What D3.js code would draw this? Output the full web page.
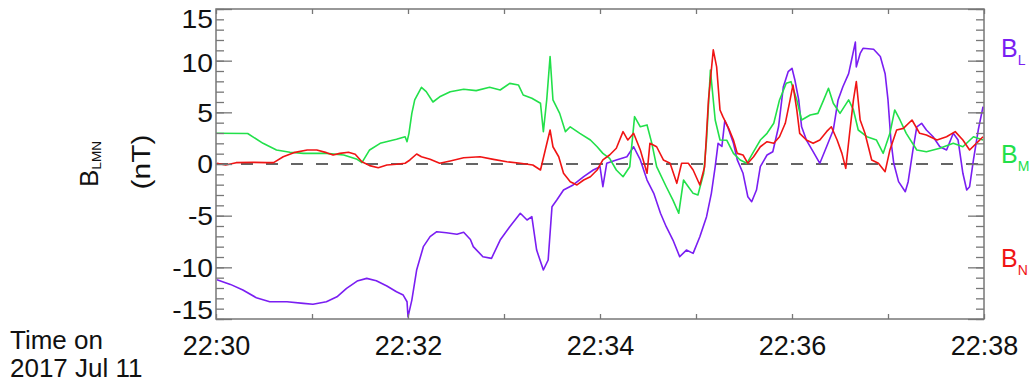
<!DOCTYPE html>
<html><head><meta charset="utf-8">
<script src="https://cdn.jsdelivr.net/npm/d3@7"></script>
<style>
body{margin:0;background:#fff}
svg{display:block}
text{font-family:"Liberation Sans",Arial,Helvetica,sans-serif;fill:#111}
</style>
</head><body>
<svg id="chart" width="1034" height="383"></svg>
<script>
// ---- data (minutes after 22:30 UT, 2017 Jul 11; values in nT) ----
const seriesNames = ["BL", "BM", "BN"];
const seriesColors = ["#7a1ef2", "#22e04a", "#f01414"];

const bLTime = [0.01,0.15,0.28,0.42,0.56,0.74,0.91,1.01,1.15,1.26,1.36,1.47,1.57,1.67,1.78,1.88,1.95,1.99,2.00,2.04,2.09,2.16,2.23,2.30,2.40,2.51,2.58,2.65,2.68,2.78,2.87,2.96,3.06,3.17,3.24,3.29,3.34,3.41,3.46,3.50,3.55,3.62,3.72,3.83,3.93,4.00,4.03,4.07,4.17,4.28,4.35,4.42,4.49,4.56,4.63,4.69,4.76,4.83,4.90,4.97,5.04,5.11,5.16,5.20,5.23,5.27,5.30,5.33,5.39,5.43,5.49,5.54,5.58,5.63,5.67,5.74,5.80,5.86,5.91,5.96,6.00,6.03,6.07,6.10,6.15,6.22,6.29,6.36,6.43,6.48,6.53,6.59,6.62,6.66,6.67,6.71,6.74,6.85,6.92,6.97,7.00,7.03,7.06,7.11,7.18,7.21,7.26,7.30,7.35,7.40,7.47,7.54,7.61,7.68,7.73,7.78,7.82,7.85,7.89,7.94,7.99];
const bLValues = [-11.2,-11.65,-12.2,-12.94,-13.33,-13.33,-13.49,-13.58,-13.33,-12.85,-12.03,-11.33,-11.07,-11.3,-11.81,-12.36,-12.68,-13.33,-14.8,-13.17,-10.26,-8.0,-7.03,-6.55,-6.65,-6.8,-6.6,-7.3,-8.0,-8.97,-9.13,-7.36,-6.07,-4.77,-5.42,-5.1,-8.33,-10.26,-9.29,-4.13,-3.49,-2.52,-2.03,-1.23,-0.58,-0.26,-2.2,0.07,0.39,0.7,1.67,0.39,-1.55,-2.84,-4.77,-6.07,-7.36,-8.97,-8.33,-8.65,-7.04,-5.1,-2.84,-0.26,2.0,1.7,4.2,3.6,2.0,0.4,-0.9,-3.17,-3.65,-2.52,-0.26,0.87,1.19,3.6,7.48,8.93,9.26,8.13,6.2,3.6,2.32,1.19,0.07,1.67,3.29,6.2,7.48,8.74,10.04,11.8,9.4,10.7,11.2,11.1,10.4,8.74,6.2,2.32,0.07,-1.71,-2.68,-1.71,1.36,3.6,3.94,3.29,2.64,1.67,1.36,2.97,2.32,-0.9,-2.52,-2.2,0.39,3.29,5.55];

const bMTime = [0.00,0.33,0.49,0.63,0.77,0.91,1.15,1.33,1.47,1.52,1.60,1.71,1.88,1.97,1.99,2.01,2.04,2.07,2.14,2.19,2.26,2.33,2.44,2.58,2.71,2.85,2.96,3.06,3.15,3.20,3.29,3.38,3.41,3.445,3.48,3.51,3.58,3.64,3.69,3.79,3.90,3.97,4.03,4.10,4.17,4.24,4.31,4.36,4.42,4.49,4.54,4.59,4.69,4.76,4.82,4.87,4.92,4.97,5.02,5.08,5.11,5.15,5.20,5.25,5.32,5.39,5.46,5.53,5.60,5.67,5.74,5.81,5.87,5.94,5.99,6.05,6.10,6.19,6.27,6.33,6.38,6.43,6.50,6.59,6.64,6.69,6.78,6.88,6.95,7.02,7.07,7.125,7.19,7.30,7.40,7.54,7.68,7.78,7.89,7.99];
const bMValues = [2.97,2.95,2.0,1.36,1.13,1.03,1.03,0.87,0.45,0.13,1.36,2.0,2.4,2.64,2.16,2.97,4.9,6.2,7.42,7.0,6.0,6.5,7.0,7.23,7.1,7.42,7.16,7.8,7.65,6.68,6.36,5.88,3.13,6.2,10.4,6.2,4.9,3.13,3.6,2.97,2.32,1.67,1.03,0.55,-0.58,-1.23,-0.26,4.58,3.6,3.78,2.0,-0.26,-2.2,-3.49,-4.77,-1.55,-2.2,-2.84,-3.0,-0.9,2.32,9.1,4.26,2.32,2.3,1.03,0.39,0.07,1.19,2.32,2.97,3.94,6.2,7.81,7.97,6.2,4.26,4.74,4.9,6.2,7.33,5.88,4.9,6.2,5.23,3.29,2.64,2.32,1.03,2.97,5.23,4.26,2.97,1.36,1.19,1.52,2.0,1.67,2.64,2.32];

const bNTime = [0.01,0.10,0.21,0.39,0.53,0.60,0.70,0.81,0.95,1.05,1.15,1.22,1.29,1.38,1.45,1.52,1.60,1.69,1.78,1.88,1.97,2.02,2.09,2.14,2.23,2.33,2.44,2.58,2.75,2.89,3.03,3.17,3.30,3.38,3.43,3.48,3.51,3.57,3.62,3.69,3.76,3.83,3.90,3.97,4.03,4.10,4.17,4.24,4.29,4.35,4.42,4.49,4.52,4.59,4.66,4.73,4.80,4.85,4.92,4.97,5.04,5.09,5.13,5.18,5.215,5.25,5.28,5.34,5.39,5.43,5.49,5.54,5.60,5.67,5.74,5.81,5.87,5.93,5.98,6.01,6.05,6.08,6.15,6.22,6.29,6.36,6.41,6.47,6.52,6.56,6.60,6.64,6.67,6.71,6.76,6.83,6.90,6.97,7.02,7.09,7.16,7.25,7.33,7.40,7.51,7.61,7.70,7.78,7.85,7.92,7.99];
const bNValues = [0.07,-0.1,0.13,0.16,0.13,0.13,0.7,1.1,1.36,1.36,1.1,0.87,1.03,1.13,0.94,0.22,-0.16,-0.36,-0.1,-0.03,0.07,0.39,0.97,0.7,0.45,0.07,0.29,0.6,0.7,0.45,0.22,0.07,-0.1,-0.58,1.36,3.29,1.67,0.7,-0.9,-1.71,-2.03,-1.55,-1.23,-0.58,0.39,0.87,1.52,3.13,2.32,2.97,1.36,-0.9,2.0,1.67,0.39,0.07,-1.87,0.07,0.07,-0.58,-2.03,-0.26,6.2,11.04,9.4,5.23,4.58,3.45,2.32,1.03,0.87,0.07,0.7,1.67,2.16,2.0,2.64,3.94,6.2,7.65,5.23,2.97,2.32,2.0,2.32,3.13,3.6,2.32,1.03,-0.42,2.97,6.2,7.97,4.26,2.97,0.39,0.07,-0.74,1.36,3.29,3.45,4.26,2.97,2.8,2.32,2.64,3.13,2.32,1.36,2.0,2.64];

const yMajorTicks = [-15,-10,-5,0,5,10,15];
const xLabelMinutes = [0,2,4,6,8];

// ---- layout ----
const X0 = 216, X1 = 984, Y0 = 9, Y1 = 319;
const svg = d3.select("#chart");
svg.append("rect").attr("width",1034).attr("height",383).attr("fill","#fff");

const t0 = Date.UTC(2017, 6, 11, 22, 30);
const toDate = m => new Date(t0 + m * 60000);
const x = d3.scaleUtc().domain([toDate(0), toDate(8)]).range([X0, X1]);
const y = d3.scaleLinear().domain([-15, 15]).range([Y1, Y0]);
const fmt = d3.utcFormat("%H:%M");

const axisColor = "#777";
function styleAxis(g){
  g.select(".domain").remove();
  g.selectAll(".tick line").attr("stroke", axisColor).attr("stroke-width", 1.3);
  g.selectAll(".tick text").attr("fill","#111");
}

// zero dashed line
svg.append("line")
  .attr("x1", X0).attr("x2", X1).attr("y1", y(0)).attr("y2", y(0))
  .attr("stroke", "#333").attr("stroke-width", 1.3).attr("stroke-dasharray", "12,13");

// series
svg.append("clipPath").attr("id","clip").append("rect")
  .attr("x", X0).attr("y", Y0).attr("width", X1 - X0).attr("height", Y1 - Y0);
const line = d3.line().x(d => x(toDate(d[0]))).y(d => y(d[1]));
const series = [
  d3.zip(bLTime, bLValues),
  d3.zip(bMTime, bMValues),
  d3.zip(bNTime, bNValues)
];
series.forEach((s, i) => {
  svg.append("path").datum(s)
    .attr("clip-path","url(#clip)")
    .attr("fill","none").attr("stroke", seriesColors[i])
    .attr("stroke-width", 1.6).attr("stroke-linejoin","round")
    .attr("d", line);
});

// axes
const minuteTicks = d3.utcMinute.every(1);
const gb = svg.append("g").attr("transform", `translate(0,${Y1})`)
  .call(d3.axisBottom(x).ticks(minuteTicks).tickSize(-5)
    .tickFormat(d => xLabelMinutes.includes((d - t0) / 60000) ? fmt(d) : ""));
styleAxis(gb);
gb.selectAll(".tick text").attr("y", 36).attr("dy", 0).style("font-size","27px");

const gt = svg.append("g").attr("transform", `translate(0,${Y0})`)
  .call(d3.axisTop(x).ticks(minuteTicks).tickSize(-5).tickFormat(""));
styleAxis(gt);

const allY = d3.range(-15, 16);
const gl = svg.append("g").attr("transform", `translate(${X0},0)`)
  .call(d3.axisLeft(y).tickValues(allY).tickSize(-8).tickFormat(""));
styleAxis(gl);
const glM = svg.append("g").attr("transform", `translate(${X0},0)`)
  .call(d3.axisLeft(y).tickValues(yMajorTicks).tickSize(-16).tickPadding(3).tickFormat(d => String(d)));
styleAxis(glM);
glM.selectAll(".tick text")
  .style("font-size","25px")
  .attr("x", 0)
  .attr("dy", "0.35em")
  .attr("transform", d => `translate(-3,${d === 15 ? 9.5 : d === -15 ? -9 : d === 10 ? 2 : 0}) scale(1.13,1)`);

const gr = svg.append("g").attr("transform", `translate(${X1},0)`)
  .call(d3.axisRight(y).tickValues(allY).tickSize(-8).tickFormat(""));
styleAxis(gr);
const grM = svg.append("g").attr("transform", `translate(${X1},0)`)
  .call(d3.axisRight(y).tickValues(yMajorTicks).tickSize(-16).tickFormat(""));
styleAxis(grM);

// frame
svg.append("rect").attr("x", X0).attr("y", Y0).attr("width", X1 - X0).attr("height", Y1 - Y0)
  .attr("fill","none").attr("stroke", axisColor).attr("stroke-width", 1.5);

// y title
const yt = svg.append("text").attr("transform", "translate(98,164) rotate(-90)")
  .attr("text-anchor","middle").style("font-size","26px");
yt.append("tspan").text("B");
yt.append("tspan").attr("dy", 3).style("font-size","13.5px").text("LMN");
svg.append("text").attr("transform", "translate(150,162) rotate(-90) scale(1.15,1)")
  .attr("text-anchor","middle").style("font-size","26px").text("(nT)");

// time caption
svg.append("text").attr("transform", "translate(10,349) scale(1.04,1)").style("font-size","25px").text("Time on");
svg.append("text").attr("transform", "translate(10,377) scale(1.04,1)").style("font-size","25px").text("2017 Jul 11");

// right-side series labels
const rightLabels = [["L", 57], ["M", 163], ["N", 267]];
rightLabels.forEach(([sub, yy], i) => {
  const t = svg.append("text").attr("x", 1001).attr("y", yy).style("font-size","25px");
  t.append("tspan").attr("fill", seriesColors[i]).text("B");
  t.append("tspan").attr("fill", seriesColors[i]).attr("dy", 8).style("font-size","14px").text(sub);
});
</script>
</body></html>
